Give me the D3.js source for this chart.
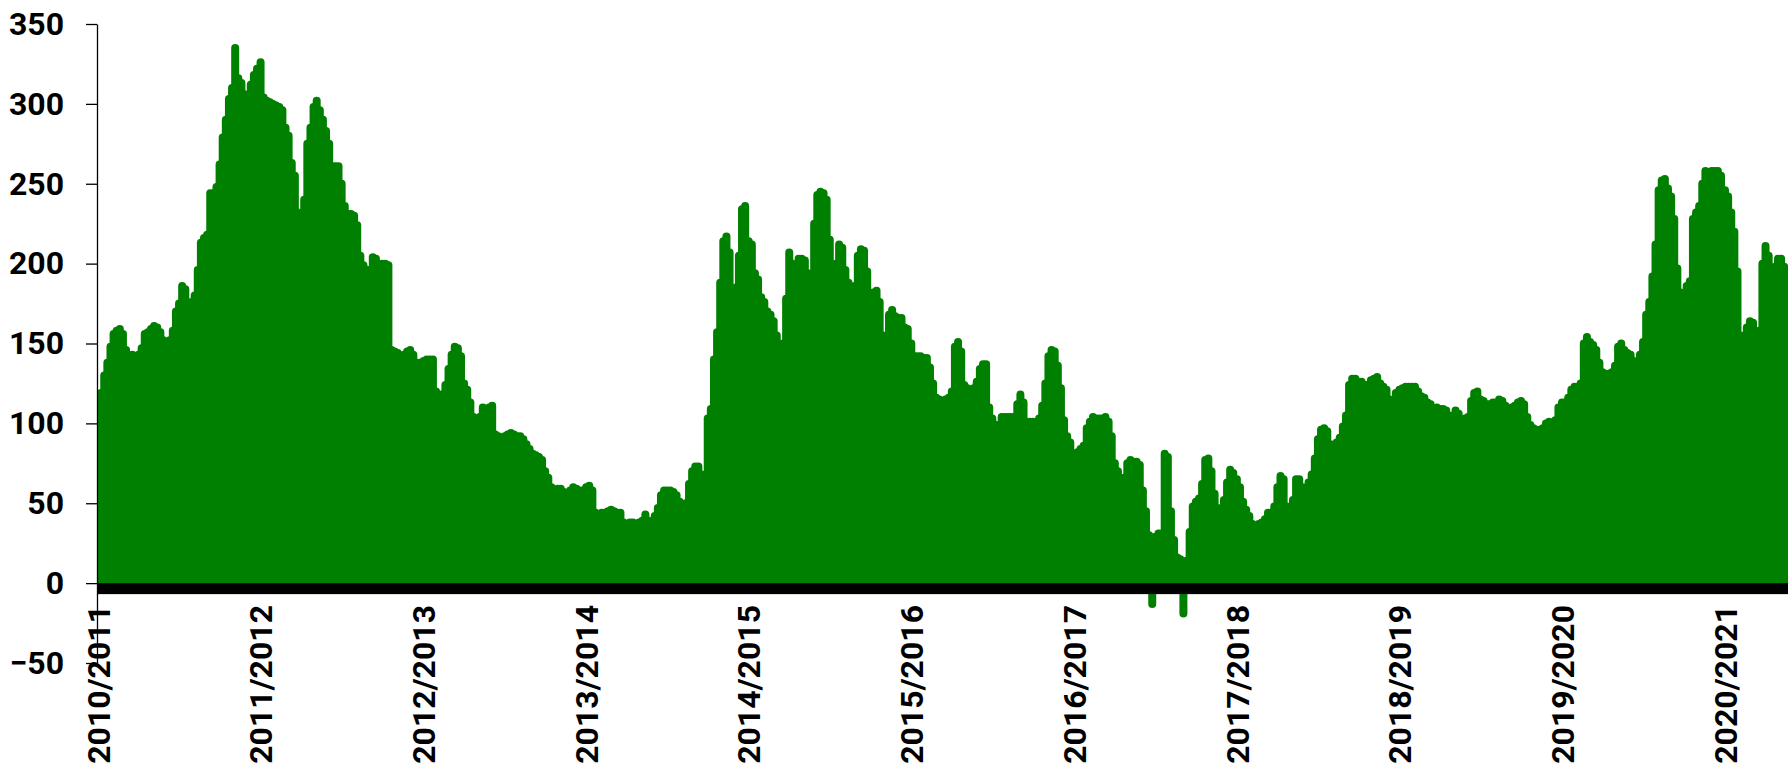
<!DOCTYPE html>
<html>
<head>
<meta charset="utf-8">
<script src="https://cdn.jsdelivr.net/npm/d3@7"></script>
<style>
  html, body { margin: 0; padding: 0; background: #ffffff; }
  svg { display: block; }
  text { font-family: Roboto, "Liberation Sans", Arial, sans-serif; font-weight: 700; }
</style>
</head>
<body>
<svg id="chart" width="1788" height="764"></svg>
<script>
// Season labels (one tick at the start of each season, July 1st)
const seasonLabels = ["2010/2011", "2011/2012", "2012/2013", "2013/2014", "2014/2015",
  "2015/2016", "2016/2017", "2017/2018", "2018/2019", "2019/2020", "2020/2021"];
const yTicks = [-50, 0, 50, 100, 150, 200, 250, 300, 350];

// Weekly values, one array per season (week 0 = season start)
const s2010 = [116, 119, 130, 138, 148, 156, 158, 159, 156, 146, 142, 143, 142, 143, 147, 156, 157, 159, 161, 160, 157, 152, 151, 152, 158, 170, 175, 186, 184, 172, 176, 180, 196, 213, 216, 218, 244, 244, 248, 262, 279, 290, 303, 310, 335, 316, 313, 306, 301, 312, 318, 322];
const s2011 = [326, 304, 302, 301, 300, 299, 298, 296, 285, 280, 263, 255, 232, 230, 240, 275, 285, 298, 302, 296, 290, 283, 275, 261, 261, 261, 250, 236, 231, 231, 230, 224, 205, 199, 196, 196, 204, 203, 194, 200, 200, 199, 146, 145, 144, 142, 143, 145, 146, 143, 138, 138];
const s2012 = [139, 140, 140, 140, 120, 118, 118, 124, 134, 143, 148, 147, 142, 125, 121, 113, 104, 101, 104, 110, 109, 110, 111, 93, 92, 91, 92, 93, 94, 93, 92, 92, 90, 87, 84, 81, 80, 79, 77, 70, 66, 60, 52, 59, 59, 57, 54, 58, 60, 59, 58, 58];
const s2013 = [60, 61, 58, 44, 43, 44, 44, 45, 46, 45, 44, 44, 38, 35, 38, 38, 37, 38, 39, 43, 39, 38, 42, 47, 55, 58, 58, 58, 57, 55, 51, 47, 50, 62, 70, 73, 73, 68, 64, 103, 109, 140, 157, 188, 214, 217, 207, 160, 185, 205, 234, 236];
const s2014 = [214, 212, 194, 190, 179, 176, 170, 168, 164, 155, 149, 150, 178, 207, 200, 195, 203, 203, 202, 194, 184, 225, 243, 245, 244, 240, 215, 185, 200, 212, 210, 196, 188, 185, 186, 205, 209, 208, 195, 178, 182, 183, 176, 155, 148, 168, 171, 167, 166, 166, 160, 159];
const s2015 = [150, 142, 142, 142, 141, 141, 135, 125, 116, 115, 113, 115, 116, 120, 148, 151, 145, 124, 122, 121, 122, 126, 134, 137, 137, 110, 103, 99, 99, 104, 104, 104, 104, 104, 112, 118, 113, 101, 101, 101, 100, 103, 111, 125, 142, 146, 145, 136, 122, 102, 92, 88];
const s2016 = [80, 82, 84, 86, 97, 101, 104, 103, 103, 103, 104, 101, 92, 75, 70, 62, 66, 75, 77, 76, 76, 74, 58, 45, 30, -13, 29, 31, 31, 81, 79, 45, 27, 16, 15, -19, 14, 32, 48, 51, 53, 62, 77, 78, 70, 56, 47, 40, 52, 63, 71, 69];
const s2017 = [65, 60, 51, 46, 42, 37, 34, 37, 38, 40, 44, 44, 48, 60, 67, 65, 48, 43, 52, 65, 65, 60, 57, 63, 68, 78, 90, 96, 97, 95, 87, 85, 88, 91, 98, 105, 124, 128, 128, 126, 126, 124, 124, 127, 128, 129, 125, 123, 121, 115, 113, 119];
const s2018 = [121, 122, 123, 123, 123, 123, 120, 117, 116, 113, 112, 109, 110, 109, 109, 108, 105, 104, 108, 106, 100, 103, 104, 114, 119, 120, 115, 114, 112, 112, 113, 113, 115, 114, 111, 109, 110, 111, 113, 114, 112, 104, 99, 97, 96, 96, 97, 100, 101, 100, 102, 110];
const s2019 = [113, 113, 116, 121, 123, 123, 125, 150, 154, 151, 149, 146, 138, 132, 131, 131, 132, 136, 148, 150, 146, 144, 143, 139, 136, 143, 151, 168, 176, 192, 212, 246, 252, 253, 247, 242, 228, 197, 182, 168, 186, 189, 228, 232, 236, 250, 258, 257, 258, 258, 258, 255];
const s2020 = [246, 242, 232, 220, 195, 155, 145, 160, 164, 163, 148, 158, 200, 211, 205, 188, 198, 203, 203, 198, 190, 185];

const seasons = [s2010, s2011, s2012, s2013, s2014, s2015, s2016, s2017, s2018, s2019, s2020];

const width = 1788, height = 764;
const seasonStart = i => new Date(2010 + i, 6, 1);

const x = d3.scaleTime()
  .domain([seasonStart(0), seasonStart(10)])
  .range([98, 1725]);
const y = d3.scaleLinear()
  .domain([-50, 350])
  .range([663, 24]);

// Flatten into dated weekly points
const points = [];
seasons.forEach((vals, i) => {
  vals.forEach((v, w) => {
    points.push({ date: d3.timeDay.offset(seasonStart(i), 7 * w), value: v });
  });
});

const svg = d3.select("#chart");

svg.append("defs").append("clipPath").attr("id", "plot-clip")
  .append("rect").attr("x", 97).attr("y", 0).attr("width", width - 97).attr("height", height);

// Vertical histogram-style lines from zero to each value
svg.append("g")
  .attr("clip-path", "url(#plot-clip)")
  .selectAll("line")
  .data(points)
  .join("line")
  .attr("x1", d => x(d.date))
  .attr("x2", d => x(d.date))
  .attr("y1", y(0))
  .attr("y2", d => y(d.value))
  .attr("stroke", "#008000")
  .attr("stroke-width", 8)
  .attr("stroke-linecap", "round");

// Heavy zero line
svg.append("rect")
  .attr("x", 97)
  .attr("y", y(0))
  .attr("width", width - 97)
  .attr("height", 11)
  .attr("fill", "#000000");

// Y axis
const yAxis = svg.append("g")
  .attr("transform", "translate(97,0)")
  .call(d3.axisLeft(y).tickValues(yTicks).tickSize(11).tickSizeOuter(0).tickPadding(22));
yAxis.select(".domain").attr("stroke", "#000").attr("stroke-width", 1.3);
yAxis.selectAll(".tick line").attr("stroke", "#000").attr("stroke-width", 1.3);
yAxis.selectAll(".tick text")
  .attr("fill", "#000")
  .style("font-size", "32px");

// X axis: season labels, rotated
const xAxis = svg.append("g")
  .attr("transform", "translate(0,605)")
  .call(d3.axisBottom(x)
    .tickValues(seasonLabels.map((_, i) => seasonStart(i)))
    .tickFormat((d, i) => seasonLabels[i])
    .tickSize(0));
xAxis.select(".domain").remove();
xAxis.selectAll(".tick text")
  .attr("x", 0)
  .attr("y", 0)
  .attr("dy", "0.35em")
  .attr("text-anchor", "end")
  .attr("transform", "rotate(-90)")
  .attr("fill", "#000")
  .style("font-size", "32px");
</script>
</body>
</html>
